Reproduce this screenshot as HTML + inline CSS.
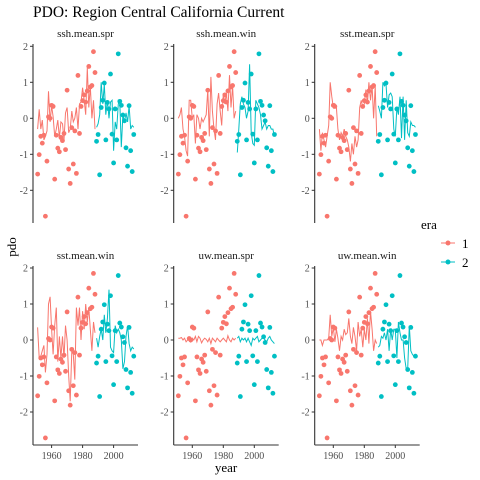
<!DOCTYPE html>
<html><head><meta charset="utf-8"><style>
body{margin:0;background:#fff}
svg{display:block;font-family:"Liberation Serif",serif}
</style></head><body>
<svg id="chart" width="480" height="480">
<text x="33" y="17" font-size="15.5" fill="#000">PDO: Region Central California Current</text>
<text transform="translate(16,247) rotate(-90)" font-size="13" text-anchor="middle">pdo</text>
<text x="226" y="472" font-size="13" text-anchor="middle">year</text>
<g>
<text x="421" y="229" font-size="13">era</text>
<g><line x1="441" y1="243" x2="455" y2="243" stroke="#F8766D" stroke-width="1"/><circle cx="448" cy="243" r="2.5" fill="#F8766D"/><text x="462" y="248" font-size="13">1</text></g>
<g><line x1="441" y1="262" x2="455" y2="262" stroke="#00BFC4" stroke-width="1"/><circle cx="448" cy="262" r="2.5" fill="#00BFC4"/><text x="462" y="267" font-size="13">2</text></g>
</g>
<g id="panels"></g>
</svg>
<script>
const panelNames = ["ssh.mean.spr","ssh.mean.win","sst.mean.spr","sst.mean.win","uw.mean.spr","uw.mean.win"];
const years = [];
for (let y = 1951; y <= 2013; y++) years.push(y);
const eraSplit = 1989;
const pdo = [-1.55,-1.01,-0.50,-0.69,-0.47,-2.72,-1.19,0.04,0.0,0.36,0.33,-1.69,-0.47,-0.83,-0.93,-0.53,-0.62,-0.42,-0.87,0.78,-1.41,-1.81,-0.26,-1.27,-0.35,-1.53,1.19,-0.42,0.33,0.49,0.65,0.45,0.76,1.44,0.87,0.91,1.85,1.27,
-0.64,-0.45,-1.57,0.30,0.50,0.98,-0.60,0.44,0.26,1.23,-0.44,-1.24,0.26,-0.60,1.79,0.47,0.36,0.09,-0.07,-0.82,-1.33,0.35,-0.90,-1.48,-0.45];
const fitSshSpr = [-0.3,0.25,-0.3,-0.05,-0.6,-0.5,-0.35,0.75,-0.1,0.35,0.05,-0.5,-0.3,-0.05,-0.55,-0.1,-0.15,-0.6,0.15,0.3,-0.4,-0.3,0.2,-0.1,0.0,0.3,-0.3,0.4,0.45,0.85,0.5,0.1,1.4,0.3,0.9,0.0,0.5,-0.3,
-0.25,-0.15,0.1,1.0,0.4,0.95,0.1,0.5,0.0,0.45,0.5,-0.9,-0.1,-0.3,0.4,0.45,-0.8,0.1,-0.1,0.15,-0.1,0.35,-0.3,-0.2,-0.25];
const fitSshWin = [0.0,0.1,0.3,-0.3,-0.5,-0.9,-1.05,0.5,0.5,0.0,0.1,-0.7,0.1,0.0,-0.3,0.0,-0.1,0.0,0.1,0.8,-0.5,1.15,0.2,-0.3,-0.6,0.4,0.7,0.2,-0.2,0.7,0.4,0.7,0.2,1.2,0.3,0.9,0.0,0.2,
-0.95,-0.3,0.4,0.6,0.4,0.3,0.0,0.2,1.5,-0.4,-0.7,-0.75,0.5,0.4,0.3,0.1,-0.3,-0.2,-0.1,-0.3,-0.2,-0.2,-0.3,-0.3,-0.5];
const fitSstSpr = [-0.3,-0.9,-0.4,-0.6,-0.8,-0.5,-0.2,1.0,0.6,0.3,0.4,0.3,-0.3,-0.6,-0.4,-0.5,-0.3,-0.5,-0.6,-0.8,-1.2,-0.7,-1.0,-0.5,-0.8,-0.6,0.3,0.5,0.3,0.4,0.8,0.4,1.0,0.5,0.9,0.0,0.9,-0.5,
0.35,0.2,0.0,1.0,0.9,0.95,0.3,0.65,0.7,0.6,-0.3,-0.5,0.3,0.1,0.6,-0.55,0.6,-0.6,0.5,-0.4,-0.5,-0.1,-0.2,-0.2,-0.25];
const fitSstWin = [0.35,-0.5,-0.45,-0.3,-0.15,-0.9,-0.4,1.0,1.2,0.3,-0.4,0.4,0.9,-0.6,0.1,-0.5,0.1,-0.5,0.4,0.0,-1.0,-1.7,-0.3,-0.4,-1.1,0.9,0.4,0.9,0.0,0.8,0.3,1.0,0.5,0.9,0.3,-0.3,0.5,0.2,
0.05,-0.2,0.1,0.3,0.0,0.7,0.2,0.6,1.4,-0.2,-0.3,-0.35,0.4,0.2,0.3,0.2,0.0,-0.8,-0.6,0.1,0.4,-0.1,-0.3,-0.2,-0.25];
const fitUwSpr = [0.05,0.05,0.07,0.0,0.05,-0.05,0.0,0.03,-0.05,0.05,0.0,0.1,-0.05,0.1,0.05,-0.08,0.0,0.05,0.02,-0.05,0.05,-0.1,0.05,0.0,-0.05,0.05,0.0,-0.05,0.0,0.05,0.0,-0.05,0.12,0.0,-0.05,0.05,0.0,0.05,
0.05,0.1,-0.05,0.05,0.0,0.05,-0.05,0.05,-0.05,-0.15,0.05,0.0,0.05,0.1,-0.05,0.0,0.05,0.05,0.0,-0.05,0.05,0.1,0.0,-0.05,-0.1];
const fitUwWin = [0.0,0.0,-0.15,0.0,0.0,0.0,0.05,0.7,0.1,0.35,-0.05,0.3,0.05,-0.3,0.1,0.0,0.3,0.15,0.2,0.6,0.1,-0.1,0.35,0.1,-0.3,0.5,0.1,0.3,-0.2,0.3,0.0,0.6,-0.1,0.8,0.3,-0.3,0.0,-0.1,
-0.2,-0.15,0.1,0.05,0.2,0.0,0.3,-0.3,0.3,0.0,0.3,0.3,-0.5,0.5,0.2,0.0,0.0,-0.5,-0.8,-0.8,0.4,-0.3,-0.4,-0.45,-0.45];
const yTicks = [2,1,0,-1,-2];
const xTicks = [1960,1980,2000];

const fits = [fitSshSpr,fitSshWin,fitSstSpr,fitSstWin,fitUwSpr,fitUwWin];
const colX = [33,173.7,314.7];
const rowZero = [118.3,340];
const rowTop = [44,266];
const rowBottom = [223,445];
const NS = "http://www.w3.org/2000/svg";
const root = document.getElementById("panels");
const RED = "#F8766D", TEAL = "#00BFC4";
function mk(tag, attrs, parent){const e=document.createElementNS(NS,tag);for(const k in attrs)e.setAttribute(k,attrs[k]);parent.appendChild(e);return e;}

panelNames.forEach((name, p) => {
  const c = p % 3, r = Math.floor(p / 3);
  const x0 = colX[c];
  const xs = yr => x0 + 18.6 + (yr - 1960) * 1.55;
  const ys = v => rowZero[r] - v * 36;
  const g = mk("g", {}, root);
  
  
  const t = mk("text", {x: x0 + 52.5, y: rowTop[r] - 7, "font-size": 11, "text-anchor": "middle", fill: "#1a1a1a"}, g);
  t.textContent = name;
  
  
  const ya = mk("line", {x1: x0, x2: x0, y1: rowTop[r], y2: rowBottom[r], stroke: "#333", "stroke-width": 1.1}, g);
  
  
  yTicks.forEach(v => {
    mk("line", {x1: x0 - 3, x2: x0, y1: ys(v), y2: ys(v), stroke: "#333"}, g);
    const tl = mk("text", {x: x0 - 5, y: ys(v) + 3.5, "font-size": 10, "text-anchor": "end", fill: "#4d4d4d"}, g);
    tl.textContent = v;
    
    
  });
  if (r === 1) {
    const xa = mk("line", {x1: x0, x2: x0 + 105, y1: rowBottom[r], y2: rowBottom[r], stroke: "#333", "stroke-width": 1.1}, g);
    
    
    xTicks.forEach(yr => {
      mk("line", {x1: xs(yr), x2: xs(yr), y1: rowBottom[r], y2: rowBottom[r] + 3, stroke: "#333"}, g);
      const tl = mk("text", {x: xs(yr), y: rowBottom[r] + 14, "font-size": 10, "text-anchor": "middle", fill: "#4d4d4d"}, g);
      tl.textContent = yr;
      
      
    });
  }
  const fit = fits[p];
  [[RED, yr => yr < eraSplit], [TEAL, yr => yr >= eraSplit]].forEach(([col, sel], ei) => {
    const pts = [];
    years.forEach((yr, i) => { if (sel(yr) && fit[i] !== undefined) pts.push(xs(yr).toFixed(1) + "," + ys(fit[i]).toFixed(1)); });
    const pl = mk("polyline", {points: pts.join(" "), fill: "none", stroke: col, "stroke-width": 1}, g);
    
    
  });
  years.forEach((yr, i) => {
    const pt = mk("circle", {cx: xs(yr), cy: ys(pdo[i]), r: 2.4, fill: yr < eraSplit ? RED : TEAL}, g);
    
    
  });
});
</script>
</body></html>
